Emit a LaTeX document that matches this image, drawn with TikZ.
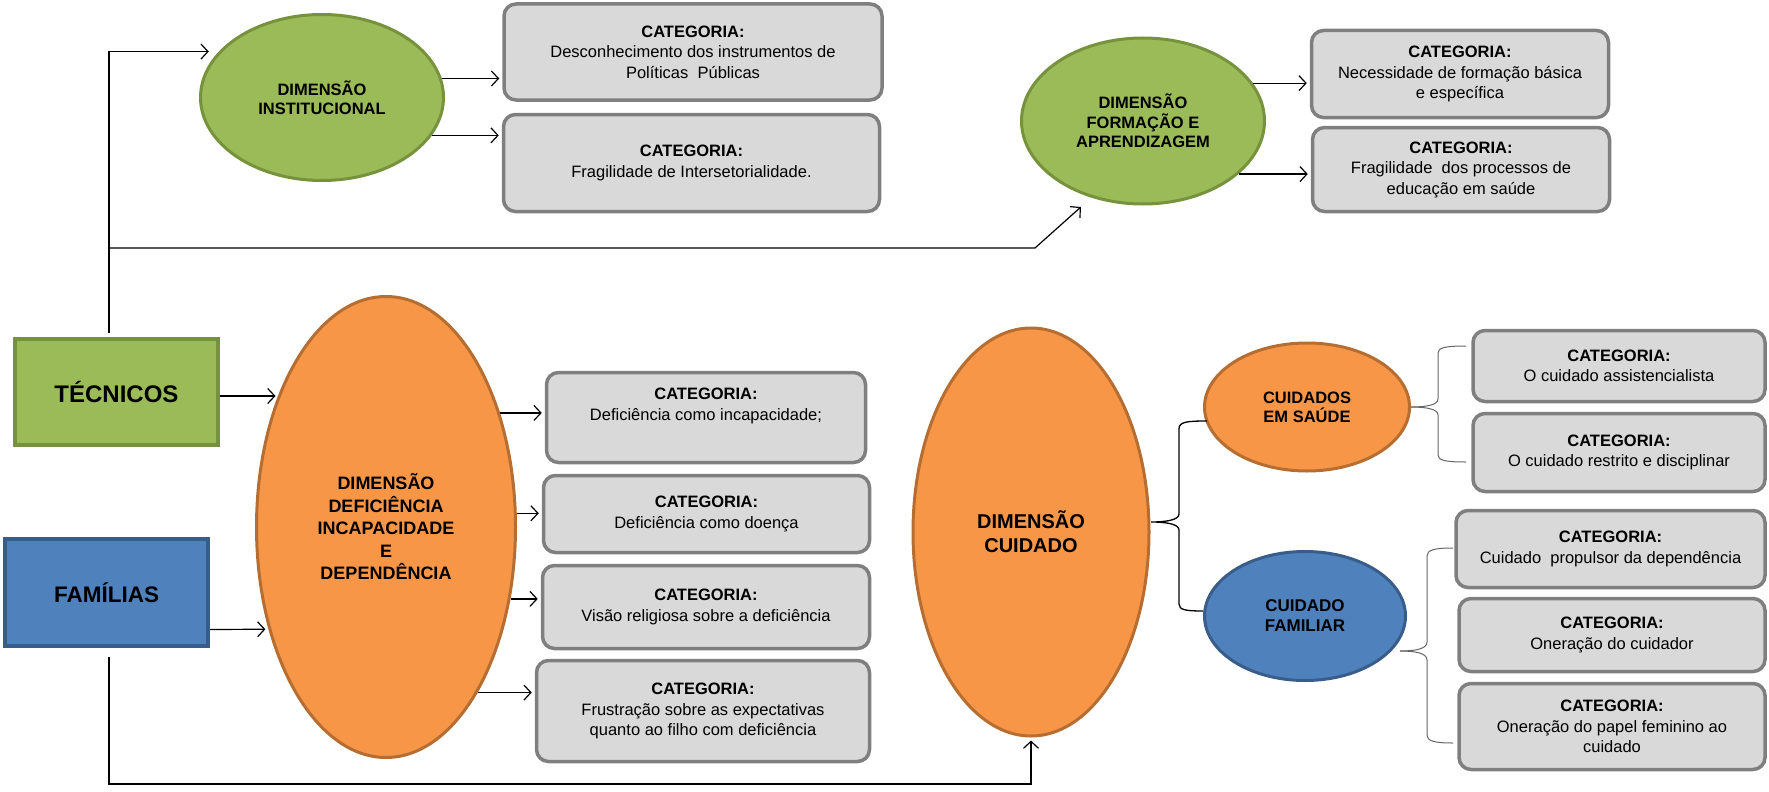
\documentclass[tikz,border=0pt]{standalone}
\usepackage{fontspec}
\setmainfont{Liberation Sans}
\usetikzlibrary{shapes.geometric,arrows.meta,calc}
\definecolor{greenF}{HTML}{9BBB59}
\definecolor{greenD}{HTML}{76923C}
\definecolor{orangeF}{HTML}{F79646}
\definecolor{orangeD}{HTML}{B66D31}
\definecolor{blueF}{HTML}{4F81BD}
\definecolor{blueD}{HTML}{385D8A}
\definecolor{grayF}{HTML}{D9D9D9}
\definecolor{grayD}{HTML}{7F7F7F}
\begin{document}
\begin{tikzpicture}[x=1pt,y=-1pt,
  arr/.style={-{Straight Barb[length=7pt,width=15pt,line width=1.2pt]},line width=1.2pt,shorten >=3pt},
  catbox/.style={draw=grayD,line width=3.5pt,fill=grayF,rounded corners=12pt,inner sep=0pt,align=center,
    font=\fontsize{16.5}{20.5}\selectfont},
  dimell/.style={ellipse,inner sep=0pt,line width=3pt,align=center},
  greenell/.style={dimell,draw=greenD,fill=greenF,font=\fontsize{16.5}{19.5}\selectfont\bfseries},
  orangeell/.style={dimell,draw=orangeD,fill=orangeF},
  blueell/.style={dimell,draw=blueD,fill=blueF},
  actor/.style={rectangle,inner sep=0pt,line width=4pt,minimum width=203pt},
  brace/.style={line width=1.3pt,draw=black},
  gbrace/.style={line width=1pt,draw=grayD!80!black}
]
\useasboundingbox (0,0) rectangle (1769,792);

% actors
\node[actor,draw=greenD,fill=greenF,minimum height=106pt,font=\fontsize{24}{28}\selectfont\bfseries] (tec) at (116.5,392) {TÉCNICOS};
\node[actor,draw=blueD,fill=blueF,minimum height=107pt,font=\fontsize{22.5}{26}\selectfont\bfseries] (fam) at (106.5,592.5) {FAMÍLIAS};

% dimension ellipses
\node[greenell,minimum width=243pt,minimum height=166pt] (di) at (322,97.5) {DIMENSÃO\\INSTITUCIONAL};
\node[greenell,minimum width=243pt,minimum height=166pt] (fa) at (1143,121) {DIMENSÃO\\FORMAÇÃO E\\APRENDIZAGEM};
\node[orangeell,minimum width=259pt,minimum height=461pt,font=\fontsize{18}{22.5}\selectfont\bfseries] (de) at (386,527)
  {DIMENSÃO\\DEFICIÊNCIA\\INCAPACIDADE\\E\\DEPENDÊNCIA};
\node[orangeell,minimum width=236pt,minimum height=408pt,font=\fontsize{20}{24}\selectfont\bfseries] (dc) at (1031,532)
  {DIMENSÃO\\CUIDADO};
\node[orangeell,minimum width=205pt,minimum height=128pt,font=\fontsize{16.5}{19}\selectfont\bfseries] (cs) at (1307,407)
  {CUIDADOS\\EM SAÚDE};
\node[blueell,minimum width=201pt,minimum height=129pt,font=\fontsize{17}{20}\selectfont\bfseries] (cf) at (1305,616)
  {CUIDADO\\FAMILIAR};

% category boxes
\node[catbox,minimum width=378pt,minimum height=96pt] (c1) at (693,52)
  {\textbf{CATEGORIA:}\\Desconhecimento dos instrumentos de\\Políticas~~Públicas};
\node[catbox,minimum width=376pt,minimum height=97pt] (c2) at (691.5,163)
  {\textbf{CATEGORIA:}\\Fragilidade de Intersetorialidade.};
\node[catbox,minimum width=297pt,minimum height=87pt] (c3) at (1460,74)
  {\textbf{CATEGORIA:}\\Necessidade de formação básica\\e específica};
\node[catbox,minimum width=297pt,minimum height=84pt] (c4) at (1461,169.5)
  {\textbf{CATEGORIA:}\\Fragilidade~ dos processos de\\educação em saúde};
\node[catbox,minimum width=319pt,minimum height=90pt] (ca) at (706,417.5)
  {\textbf{CATEGORIA:}\\Deficiência como incapacidade;\\\strut};
\node[catbox,minimum width=326pt,minimum height=77pt] (cb) at (706.5,514)
  {\textbf{CATEGORIA:}\\Deficiência como doença};
\node[catbox,minimum width=327pt,minimum height=83pt] (cc) at (706,607)
  {\textbf{CATEGORIA:}\\Visão religiosa sobre a deficiência};
\node[catbox,minimum width=333pt,minimum height=101pt] (cd) at (703,711)
  {\textbf{CATEGORIA:}\\Frustração sobre as expectativas\\quanto ao filho com deficiência};
\node[catbox,minimum width=292pt,minimum height=71pt] (ce) at (1619,366)
  {\textbf{CATEGORIA:}\\O cuidado assistencialista};
\node[catbox,minimum width=292pt,minimum height=78pt] (cfa) at (1619,452.5)
  {\textbf{CATEGORIA:}\\O cuidado restrito e disciplinar};
\node[catbox,minimum width=309pt,minimum height=77pt] (cg) at (1610.5,549)
  {\textbf{CATEGORIA:}\\Cuidado~ propulsor da dependência};
\node[catbox,minimum width=306pt,minimum height=73pt] (ch) at (1612,635)
  {\textbf{CATEGORIA:}\\Oneração do cuidador};
\node[catbox,minimum width=306pt,minimum height=86pt] (ci) at (1612,726.5)
  {\textbf{CATEGORIA:}\\Oneração do papel feminino ao\\cuidado};

% trunk lines
\coordinate (trunkT) at (109,333);
\coordinate (midT) at (109,248);
\coordinate (bend) at (1035,248);
\coordinate (trunkF) at (109,657);
\coordinate (bot) at (109,784);
\draw[arr,shorten >=10pt] (trunkT) |- (di.156);
\draw[arr,shorten >=14pt] (midT) -- (bend) -- (fa.236);
\draw[arr] (trunkF) -- (bot) -| (dc.south);

% actor arrows
\draw[arr] ([yshift=-4pt]tec.east) -- ([yshift=-4pt]tec.east -| de.129.1);
\draw[arr] ([yshift=-37pt]fam.east) -- (de.221.3);

% dimension -> categories
\draw[arr] (di.9.5) -- (di.9.5 -| c1.west);
\draw[arr] (di.-19) -- (di.-19 -| c2.west);
\draw[arr] (fa.19.6) -- (fa.19.6 -| c3.west);
\draw[arr] (fa.-29) -- (fa.-29 -| c4.west);
\draw[arr] (de.45.6) -- (de.45.6 -| ca.west);
\draw[arr] (de.6.1) -- (de.6.1 -| cb.west);
\draw[arr] (de.-30.4) -- (de.-30.4 -| cc.west);
\draw[arr] (de.-61.4) -- (de.-61.4 -| cd.west);

% braces
\coordinate (dcb) at (1151,522);
\draw[brace] (cs.west |- 0,421) ++(4,0) .. controls (1186,421) and (1179,422) .. (1179,429) -- (1179,514)
  .. controls (1179,520) and (1166,522) .. (dcb)
  .. controls (1166,522) and (1179,524) .. (1179,530) -- (1179,604)
  .. controls (1179,610) and (1186,611) .. (1203,611);

\coordinate (csb) at (1411,407);
\draw[gbrace] (csb) .. controls (1426,407) and (1438,405) .. (1438,399) -- (1438,353)
  .. controls (1438,348) and (1444,346) .. (1466,346);
\draw[gbrace] (csb) .. controls (1426,407) and (1438,409) .. (1438,415) -- (1438,455)
  .. controls (1438,460) and (1444,462) .. (1466,462);

\coordinate (cfb) at (1400,651);
\draw[gbrace] (cfb) .. controls (1415,651) and (1427,649) .. (1427,642) -- (1427,556)
  .. controls (1427,550) and (1434,548) .. (1453,548);
\draw[gbrace] (cfb) .. controls (1415,651) and (1427,653) .. (1427,660) -- (1427,735)
  .. controls (1427,741) and (1434,743) .. (1453,743);
\end{tikzpicture}
\end{document}
